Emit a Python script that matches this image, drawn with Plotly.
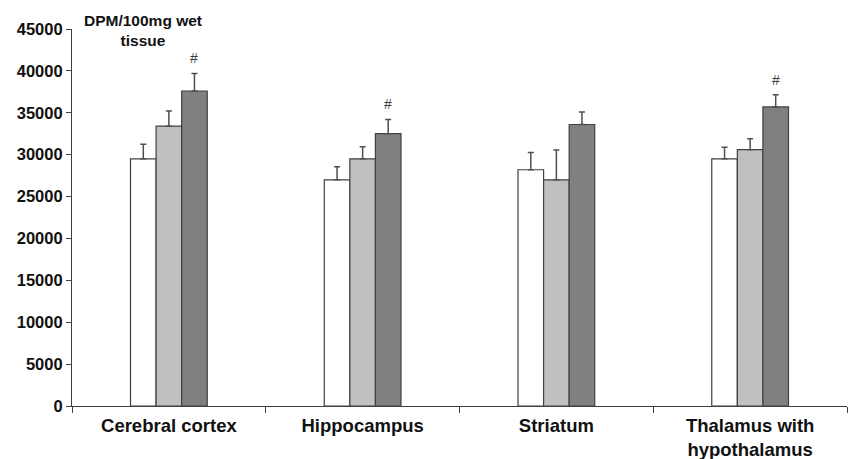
import plotly.graph_objects as go

# Regional radioactivity (DPM per 100 mg wet tissue), three groups per region
regions = ["Cerebral cortex", "Hippocampus", "Striatum", "Thalamus with<br>hypothalamus"]
group_a = [29500, 27000, 28200, 29500]
group_b = [33400, 29500, 27000, 30600]
group_c = [37600, 32500, 33600, 35700]
err_a = [1750, 1550, 2050, 1400]
err_b = [1800, 1450, 3550, 1300]
err_c = [2100, 1700, 1500, 1450]
# significance marks over the third group
sig_c = ["#", "#", "", "#"]

fills = ["#ffffff", "#c0c0c0", "#808080"]
outline = "#404040"
font_family = "Liberation Sans, Arial, sans-serif"

fig = go.Figure()
for vals, errs, fill in zip([group_a, group_b, group_c], [err_a, err_b, err_c], fills):
    fig.add_trace(go.Bar(
        x=regions, y=vals,
        marker=dict(color=fill, line=dict(color=outline, width=1.2)),
        error_y=dict(type="data", array=errs, arrayminus=[0] * len(errs),
                     symmetric=False, color="#505050", thickness=1.5, width=3),
        showlegend=False,
    ))

for reg, v, e, s in zip(regions, group_c, err_c, sig_c):
    if s:
        fig.add_annotation(x=reg, y=v + e, text=s, showarrow=False,
                           xshift=25.5, yshift=15,
                           font=dict(family=font_family, size=14, color="#404040"))

fig.add_annotation(xref="paper", yref="paper", x=0.091, y=0.997, xanchor="center", yanchor="middle",
                   text="<b>DPM/100mg wet<br>tissue</b>", showarrow=False,
                   font=dict(family=font_family, size=15.5, color="#111111"))

fig.update_layout(
    width=849, height=459,
    margin=dict(l=72, r=2, t=29, b=53),
    paper_bgcolor="white", plot_bgcolor="white",
    barmode="group", bargap=0.604, bargroupgap=0,
    font=dict(family=font_family, color="#111111"),
)
fig.update_xaxes(
    showline=True, linecolor=outline, linewidth=1.2,
    ticks="outside", tickson="boundaries", ticklen=6, tickcolor=outline,
    tickfont=dict(size=18.5, family=font_family, color="#111111"),
    tickprefix="<b>", ticksuffix="</b>", ticklabelstandoff=3,
    showgrid=False, automargin=False,
)
fig.update_yaxes(
    range=[0, 45000], dtick=5000, tickformat="d",
    showline=True, linecolor=outline, linewidth=1.2,
    ticks="outside", ticklen=5, tickcolor=outline,
    tickfont=dict(size=16.5, family=font_family, color="#111111"),
    tickprefix="<b>", ticksuffix="</b>",
    showgrid=False, zeroline=False, automargin=False,
)

fig.write_html("out.html")
